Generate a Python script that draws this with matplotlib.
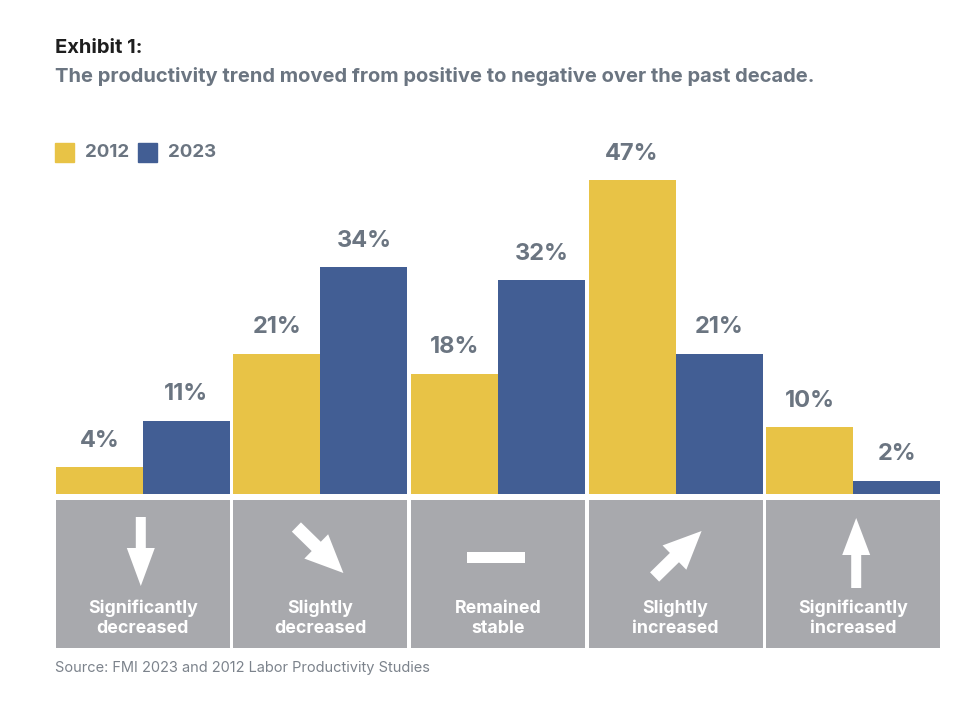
import matplotlib.pyplot as plt
import matplotlib.transforms as mtransforms
from matplotlib.patches import FancyArrow, Rectangle
import numpy as np

# - Data -
categories = ['Significantly\ndecreased', 'Slightly\ndecreased', 'Remained\nstable',
              'Slightly\nincreased', 'Significantly\nincreased']
values_2012 = [4, 21, 18, 47, 10]
values_2023 = [11, 34, 32, 21, 2]
series_names = ['2012', '2023']

YELLOW = '#e8c346'
BLUE = '#425e94'
GRAY_TEXT = '#6b7581'
BOX = '#a8a9ad'

plt.rcParams['font.family'] = ['Inter', 'DejaVu Sans']

W, H = 977, 702
fig = plt.figure(figsize=(W / 100, H / 100), dpi=100)
fig.patch.set_facecolor('white')

def px_axes(x0, x1, y_top, y_bot):
    return fig.add_axes([x0 / W, 1 - y_bot / H, (x1 - x0) / W, (y_bot - y_top) / H])

# - Bars -
ax = px_axes(54, 942, 160, 494)
x = np.arange(len(categories))
bw = 0.49
b1 = ax.bar(x - bw / 2, values_2012, bw, color=YELLOW, edgecolor='none')
b2 = ax.bar(x + bw / 2, values_2023, bw, color=BLUE, edgecolor='none')
for bars in (b1, b2):
    ax.bar_label(bars, labels=[f'{v}%' for v in bars.datavalues], padding=11,
                 fontsize=17, fontweight='bold', color=GRAY_TEXT)
ax.set_xlim(-0.5, 4.5)
ax.set_ylim(0, 50)
ax.axis('off')

# - Category boxes with arrows -
bx = px_axes(54, 942, 500, 648)
bx.set_xlim(-0.5, 4.5)
bx.set_ylim(0, 1)
bx.axis('off')
gw = 2 * bw
for i, name in enumerate(categories):
    bx.add_patch(Rectangle((i - gw / 2, 0), gw, 1, color=BOX, lw=0))
    bx.text(i, 0.2, name, ha='center', va='center', color='white',
            fontsize=12.8, fontweight='bold', linespacing=1.22)

# icons: offsets in pixels from top-centre of each box
icons = [
    ('arrow', (-2, -17), (0, -69), 10, 28, 38),
    ('arrow', (-24, -27), (47, -46), 13, 34, 38),
    ('dash', None, None, None, None, None),
    ('arrow', (-21, -77), (47, 46), 13, 34, 38),
    ('arrow', (3, -88), (0, 70), 10, 28, 37),
]
for i, (kind, start, delta, w, hw, hl) in enumerate(icons):
    tr = fig.dpi_scale_trans + mtransforms.ScaledTranslation(i, 1, bx.transData)
    if kind == 'arrow':
        a = FancyArrow(start[0] / 100, start[1] / 100, delta[0] / 100, delta[1] / 100,
                       width=w / 100, head_width=hw / 100, head_length=hl / 100,
                       length_includes_head=True, color='white', lw=0, transform=tr)
    else:
        a = Rectangle((-31 / 100, -63 / 100), 58 / 100, 11 / 100, color='white', lw=0,
                      transform=tr)
    a.set_clip_on(False)
    bx.add_patch(a)

# - Titles, legend, source -
fig.text(55 / W, 1 - 48 / H, 'Exhibit 1:', fontsize=14.5, fontweight='bold',
         color='#1e1e1e', va='center')
fig.text(55 / W, 1 - 77 / H,
         'The productivity trend moved from positive to negative over the past decade.',
         fontsize=14.5, fontweight='bold', color=GRAY_TEXT, va='center')

lx = 55
for name, col in zip(series_names, [YELLOW, BLUE]):
    fig.patches.append(Rectangle((lx / W, 1 - 162 / H), 19 / W, 19 / H, color=col,
                                 transform=fig.transFigure, figure=fig))
    fig.text((lx + 30) / W, 1 - 152.5 / H, name, fontsize=13.5, fontweight='bold',
             color=GRAY_TEXT, va='center')
    lx += 83

fig.text(55 / W, 1 - 668 / H, 'Source: FMI 2023 and 2012 Labor Productivity Studies',
         fontsize=10.5, color='#7c838c', va='center')

fig.savefig('out.png', dpi=100)
